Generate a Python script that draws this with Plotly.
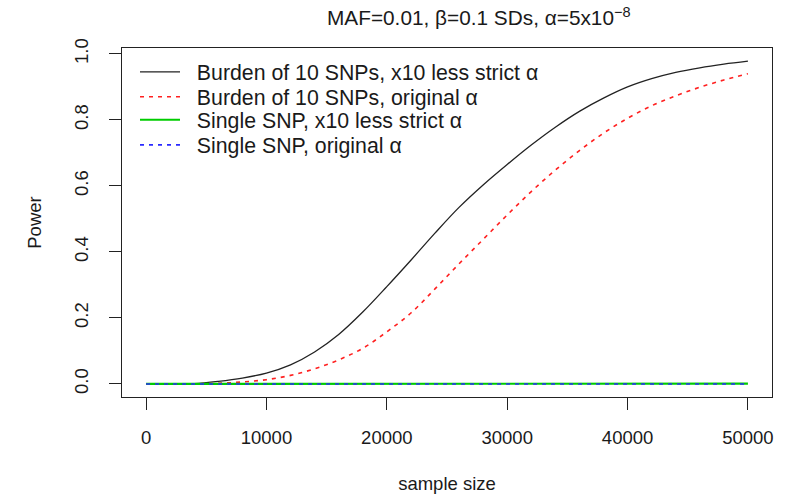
import plotly.graph_objects as go

# ---- data ----
sample_size = [0, 2000, 4000, 6000, 8000, 10000, 12000, 14000, 16000, 18000, 20000,
               22000, 24000, 26000, 28000, 30000, 32000, 34000, 36000, 38000, 40000,
               42000, 44000, 46000, 48000, 50000]

burden_less_strict = [0.0, 0.0, 0.001, 0.008, 0.018, 0.033, 0.058, 0.097, 0.150, 0.218, 0.295,
                      0.375, 0.457, 0.535, 0.603, 0.665, 0.724, 0.778, 0.826, 0.866, 0.900,
                      0.925, 0.944, 0.958, 0.969, 0.978]

burden_original = [0.0, 0.0, 0.0005, 0.002, 0.006, 0.013, 0.026, 0.046, 0.073, 0.108, 0.158,
                   0.215, 0.288, 0.364, 0.438, 0.512, 0.583, 0.648, 0.707, 0.760, 0.805,
                   0.843, 0.873, 0.899, 0.921, 0.940]

single_less_strict = [0.0] * 25 + [0.001]
single_original = [0.0] * 26

x_ticks = [0, 10000, 20000, 30000, 40000, 50000]
x_tick_labels = ["0", "10000", "20000", "30000", "40000", "50000"]
y_ticks = [0.0, 0.2, 0.4, 0.6, 0.8, 1.0]
y_tick_labels = ["0.0", "0.2", "0.4", "0.6", "0.8", "1.0"]

series_names = ["Burden of 10 SNPs, x10 less strict α",
                "Burden of 10 SNPs, original α",
                "Single SNP, x10 less strict α",
                "Single SNP, original α"]

FONT = "Liberation Sans, Arial, sans-serif"
TXT = "#1a1a1a"
GAP = "\u00a0\u00a0"

styles = [
    dict(color="#222222", width=1.3, shape="spline"),
    dict(color="#ff2020", width=1.6, dash="4px,5px", shape="spline"),
    dict(color="#00cc00", width=2.2),
    dict(color="#2a2aff", width=1.6, dash="4px,5px"),
]
series = [burden_less_strict, burden_original, single_less_strict, single_original]
legend_ids = ["legend", "legend2", "legend3", "legend4"]

fig = go.Figure()
for name, vals, st, lg in zip(series_names, series, styles, legend_ids):
    fig.add_trace(go.Scatter(x=sample_size, y=vals, mode="lines", name=GAP + name,
                             line=st, legend=lg, hoverinfo="skip"))

# legend rows (one legend per row so the row spacing matches the reference)
row_y = [0.931, 0.860, 0.794, 0.722]
legend_common = dict(x=0.02, xanchor="left", yanchor="middle",
                     bgcolor="rgba(0,0,0,0)", borderwidth=0,
                     font=dict(family=FONT, size=21.3, color=TXT), itemwidth=40)

fig.update_layout(
    width=798, height=496,
    margin=dict(l=122, r=26, t=48, b=99, autoexpand=False),
    paper_bgcolor="white", plot_bgcolor="white",
    font=dict(family=FONT, size=19, color=TXT),
    title=dict(text="MAF=0.01, β=0.1 SDs, α=5x10<sup>−8</sup>",
               x=0.600, xanchor="center", xref="container",
               y=1 - 18 / 496, yanchor="middle", yref="container",
               font=dict(family=FONT, size=20.8, color=TXT)),
    showlegend=True,
    legend=dict(y=row_y[0], **legend_common),
    legend2=dict(y=row_y[1], **legend_common),
    legend3=dict(y=row_y[2], **legend_common),
    legend4=dict(y=row_y[3], **legend_common),
    xaxis=dict(range=[-2000, 52000], tickvals=x_ticks, ticktext=x_tick_labels,
               showgrid=False, zeroline=False, showline=True, linecolor="#222222",
               linewidth=1.2, mirror=True, ticks="outside", ticklen=12, tickwidth=1.2,
               tickcolor="#222222", ticklabelstandoff=12, automargin=False,
               tickfont=dict(family=FONT, size=18.5, color=TXT),
               title=dict(text="sample size", standoff=29,
                          font=dict(family=FONT, size=18.5, color=TXT))),
    yaxis=dict(range=[-0.0395, 1.018], tickvals=y_ticks, ticktext=y_tick_labels,
               showgrid=False, zeroline=False, showline=True, linecolor="#222222",
               linewidth=1.2, mirror=True, ticks="outside", ticklen=12, tickwidth=1.2,
               tickcolor="#222222", tickangle=-90, ticklabelstandoff=14, automargin=False,
               tickfont=dict(family=FONT, size=18.5, color=TXT),
               title=dict(text="Power", standoff=24,
                          font=dict(family=FONT, size=18.5, color=TXT))),
)

# remove the browser's default 8px page margin so the figure sits at the window origin
fig.write_html("out.html", config={"displayModeBar": False},
               post_script="document.body.style.margin='0';")
